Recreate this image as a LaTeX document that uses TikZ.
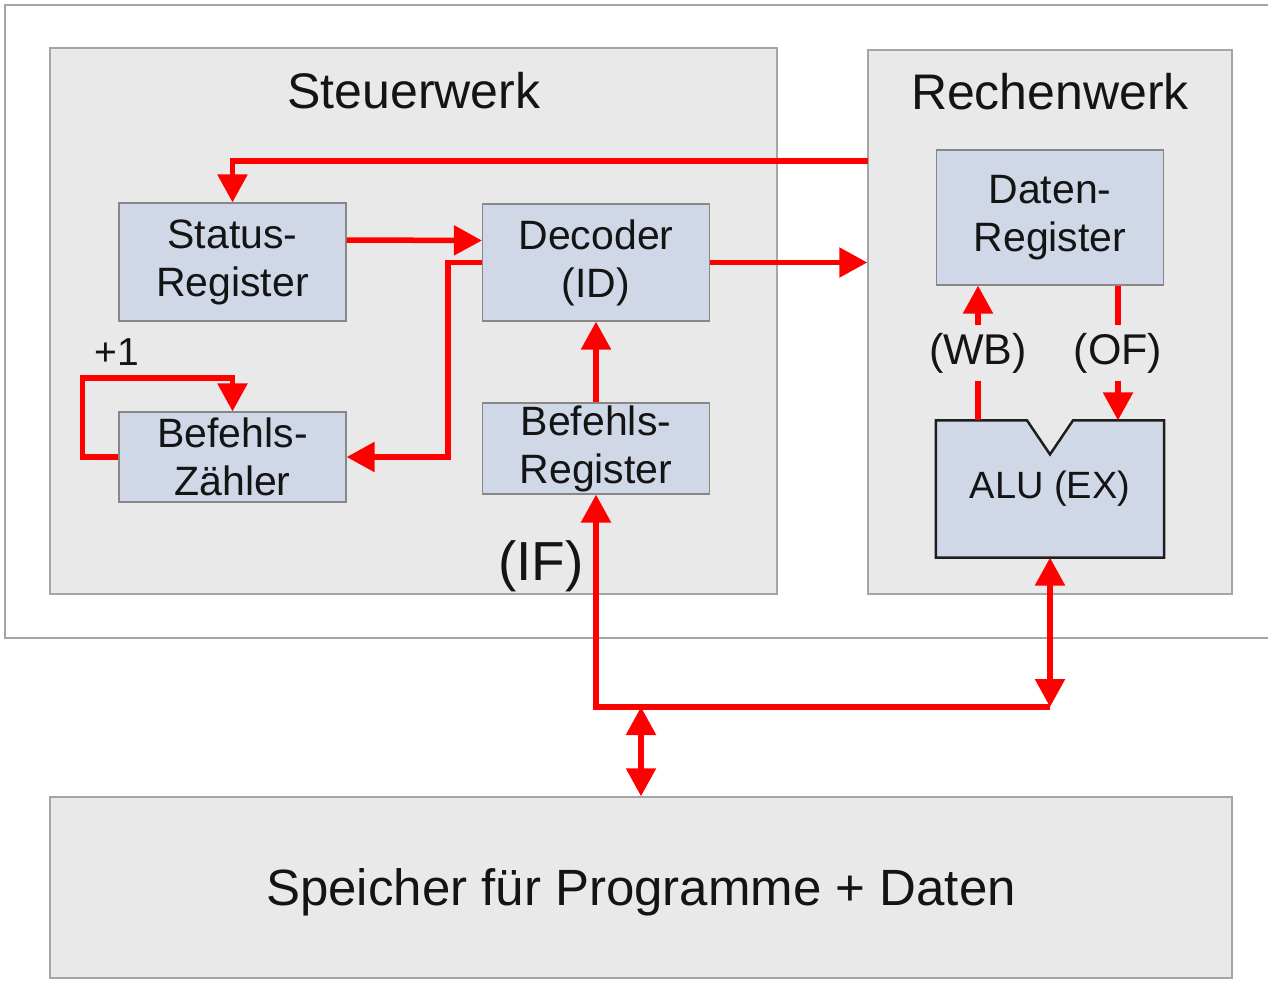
\documentclass[tikz,border=0pt]{standalone}
\usepackage{fontspec}
\setmainfont{Liberation Sans}
\usetikzlibrary{arrows.meta,calc}
\definecolor{panel}{RGB}{233,233,233}
\definecolor{panelline}{RGB}{165,165,165}
\definecolor{regfill}{RGB}{208,216,232}
\definecolor{regline}{RGB}{135,135,135}
\definecolor{alurim}{RGB}{30,30,30}
\definecolor{bus}{RGB}{255,0,0}
\definecolor{ink}{RGB}{20,20,20}
\begin{document}
\begin{tikzpicture}[x=1pt,y=-1pt,
  every node/.style={text=ink},
  panelbox/.style={draw=panelline, fill=panel, line width=1.5pt, inner sep=0pt},
  reg/.style={draw=regline, fill=regfill, line width=1.2pt, minimum width=227pt,
    align=center, inner sep=0pt, font=\fontsize{41}{48}\selectfont},
  title/.style={font=\fontsize{50}{60}\selectfont},
  lab/.style={font=\fontsize{43}{50}\selectfont},
  stagelab/.style={lab, fill=panel, inner xsep=2pt, inner ysep=8pt},
  flow/.style={draw=bus, line width=5.5pt, -{Triangle[width=29pt,length=28pt]}},
  both/.style={draw=bus, line width=5.5pt,
    {Triangle[width=29pt,length=28pt]}-{Triangle[width=29pt,length=28pt]}}
]
\useasboundingbox (0,0) rectangle (1268,980);
\clip (0,0) rectangle (1268,980);

% processor frame
\draw[draw=panelline, fill=white, line width=1.5pt] (5,5) rectangle (1290,638);

% units
\node[panelbox, minimum width=727pt, minimum height=546pt] (sw) at (413.5,321) {};
\node[panelbox, minimum width=364pt, minimum height=544pt] (rw) at (1050,322) {};
\node[panelbox, minimum width=1182pt, minimum height=181pt, text depth=0pt,
  font=\fontsize{51}{60}\selectfont]
  (sp) at (641,887.5) {Speicher für Programme + Daten};

\node[title] (swt) at (414,91) {Steuerwerk};
\node[title] (rwt) at (1050,92) {Rechenwerk};

% registers of the control unit
\node[reg, minimum height=118pt] (sr) at (232.5,262) {Status-\\Register};
\node[reg, minimum height=117pt] (dec) at (596,262.5) {Decoder\\(ID)};
\node[reg, minimum height=90pt] (bz) at (232.5,457) {Befehls-\\Zähler};
\node[reg, minimum height=91pt] (br) at (596,448.5) {Befehls-\\Register};

% arithmetic unit
\node[reg, minimum height=135pt] (dr) at (1050,217.5) {Daten-\\Register};
\node[reg, draw=none, minimum height=136pt, font=\fontsize{38}{44}\selectfont]
  (alu) at (1050,489) {ALU (EX)};
\fill[panel] ($(alu.north)+(-23,-1)$) -- ($(alu.north)+(0,34)$) -- ($(alu.north)+(23,-1)$) -- cycle;
\draw[alurim, line width=2.5pt]
  (alu.north west) -- ($(alu.north)+(-23,0)$) -- ($(alu.north)+(0,34)$)
  -- ($(alu.north)+(23,0)$) -- (alu.north east) -- (alu.south east)
  -- (alu.south west) -- cycle;

% control paths
\coordinate (fb) at (868,161);
\draw[flow] (fb) -| (sr.north);
\draw[flow] ([yshift=22pt]sr.east) -- ([yshift=22pt]dec.west);
\draw[flow] (dec.west) -- ++(-34,0) |- (bz.east);
\draw[flow] (dec.east) -- (rw.west |- dec.east);
\draw[flow] (br.north) -- (dec.south);
\draw[flow] (bz.west) -- ++(-36,0) -- ++(0,-79) -| (bz.north);
\node[font=\fontsize{39}{44}\selectfont] (inc) at (117,352) {+1};

% data paths inside the arithmetic unit
\draw[flow] ([xshift=68pt]dr.south) -- ([xshift=68pt]alu.north)
  node[midway, stagelab] (of) {(OF)};
\draw[flow] ([xshift=-72pt]alu.north) -- ([xshift=-72pt]dr.south)
  node[midway, stagelab] (wb) {(WB)};

% bus to memory
\coordinate (bk) at (1050,707);
\draw[flow] (bk) -| (br.south);
\draw[both] (bk) -- (alu.south);
\draw[both] (sp.north |- bk) -- (sp.north);
\node[font=\fontsize{55}{60}\selectfont] (iflab) at (541,566) {(IF)};
\end{tikzpicture}
\end{document}
